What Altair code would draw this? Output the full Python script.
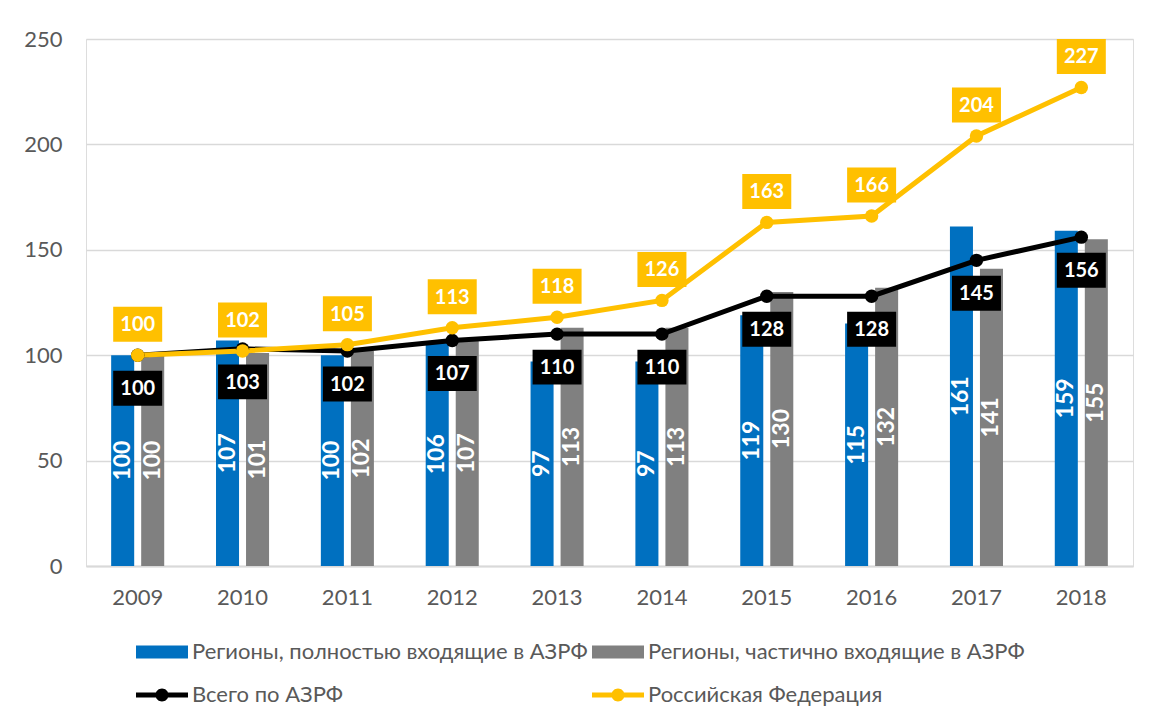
import altair as alt
import pandas as pd

years = ["2009", "2010", "2011", "2012", "2013", "2014", "2015", "2016", "2017", "2018"]
full_regions = [100, 107, 100, 106, 97, 97, 119, 115, 161, 159]
part_regions = [100, 101, 102, 107, 113, 113, 130, 132, 141, 155]
total_azrf = [100, 103, 102, 107, 110, 110, 128, 128, 145, 156]
russia = [100, 102, 105, 113, 118, 126, 163, 166, 204, 227]

S1 = "Регионы, полностью входящие в АЗРФ"
S2 = "Регионы, частично входящие в АЗРФ"
S3 = "Всего по АЗРФ"
S4 = "Российская Федерация"
series_names = [S1, S2, S3, S4]
series_colors = ["#0070C0", "#808080", "#000000", "#FFC000"]
y_ticks = [0, 50, 100, 150, 200, 250]

rows = []
for name, vals in zip(series_names, [full_regions, part_regions, total_azrf, russia]):
    for y, v in zip(years, vals):
        rows.append({"year": y, "series": name, "value": v})
df = pd.DataFrame(rows)

FONT = "Lato, Open Sans, sans-serif"

color_scale = alt.Scale(domain=series_names, range=series_colors)
x_scale = alt.Scale(paddingInner=0.494, paddingOuter=0.24)
x_axis = alt.Axis(title=None, labelAngle=0, ticks=False, domain=True,
                  domainColor="#d9d9d9", domainWidth=2, labelPadding=21,
                  labelFontSize=22, labelColor="#595959", labelFont=FONT)
y_scale = alt.Scale(domain=[0, 250], nice=False)
y_axis = alt.Axis(title=None, values=y_ticks, grid=True, gridColor="#d9d9d9",
                  gridWidth=1.5, domain=False, ticks=False, labelPadding=24,
                  labelFontSize=22, labelColor="#595959", labelFont=FONT)
x_enc = alt.X("year:O", sort=years, scale=x_scale, axis=x_axis)
y_enc = alt.Y("value:Q", scale=y_scale, axis=y_axis)

base = alt.Chart(df)
bar_filter = alt.FieldOneOfPredicate(field="series", oneOf=[S1, S2])
xoff = alt.XOffset("series:N", sort=[S1, S2], scale=alt.Scale(paddingInner=0.233, paddingOuter=0))

RECT = "M-1,-0.25H1V0.25H-1Z"
LINEDOT = ("M-1,-0.096H1V0.096H-1Z "
           "M-0.25,0A0.25,0.25 0 1,1 0.25,0A0.25,0.25 0 1,1 -0.25,0Z")

legend_def = alt.Legend(title=None, orient="none", legendX=50, legendY=587,
                        columns=2, direction="horizontal", padding=0,
                        symbolSize=2704, symbolStrokeWidth=0,
                        labelFontSize=22, labelColor="#595959", labelFont=FONT,
                        labelOffset=4, labelLimit=1000,
                        columnPadding=4, rowPadding=6)

legend_layer = base.transform_filter("false").mark_point(filled=True, opacity=1).encode(
    x=x_enc,
    y=y_enc,
    color=alt.Color("series:N", scale=color_scale, legend=legend_def),
    shape=alt.Shape("series:N", scale=alt.Scale(domain=series_names,
                                                range=[RECT, RECT, LINEDOT, LINEDOT]),
                    legend=legend_def),
)

bars = base.transform_filter(bar_filter).mark_bar().encode(
    x=x_enc, y=y_enc, xOffset=xoff,
    color=alt.Color("series:N", scale=color_scale, legend=None),
)

bar_labels = base.transform_filter(bar_filter).transform_calculate(
    mid="datum.value / 2"
).mark_text(angle=270, align="center", baseline="middle", fontSize=23,
            fontWeight="bold", color="white", font=FONT).encode(
    x=alt.X("year:O", sort=years), xOffset=xoff,
    y=alt.Y("mid:Q"), text=alt.Text("value:Q"),
)

line_data = base.transform_filter(alt.FieldOneOfPredicate(field="series", oneOf=[S3, S4]))
lines = line_data.mark_line(strokeWidth=5).encode(
    x=alt.X("year:O", sort=years), y="value:Q",
    color=alt.Color("series:N", scale=color_scale, legend=None),
)
points = line_data.mark_point(filled=True, size=180, opacity=1).encode(
    x=alt.X("year:O", sort=years), y="value:Q",
    color=alt.Color("series:N", scale=color_scale, legend=None),
)

BOX = "M-1,-0.714H1V0.714H-1Z"


def label_layer(name, offset):
    d = base.transform_filter(alt.FieldEqualPredicate(field="series", equal=name))
    box = d.mark_point(shape=BOX, size=2401, filled=True, opacity=1, strokeWidth=0,
                       yOffset=offset).encode(
        x=alt.X("year:O", sort=years), y="value:Q",
        color=alt.Color("series:N", scale=color_scale, legend=None),
    )
    txt = d.mark_text(yOffset=offset + 1, fontSize=20, fontWeight="bold", color="white",
                      baseline="middle", align="center", font=FONT).encode(
        x=alt.X("year:O", sort=years), y="value:Q", text="value:Q",
    )
    return box + txt


black_labels = label_layer(S3, 33)
yellow_labels = label_layer(S4, -31)

chart = alt.layer(
    legend_layer, bars, bar_labels, lines, points, black_labels, yellow_labels
).properties(
    width=1047, height=527,
    padding={"left": 78, "top": 31, "right": 13, "bottom": 150},
    autosize=alt.AutoSizeParams(type="none"),
).configure_view(stroke=None).configure(background="white")

chart.save("out.html", embed_options={"renderer": "svg", "actions": False})
